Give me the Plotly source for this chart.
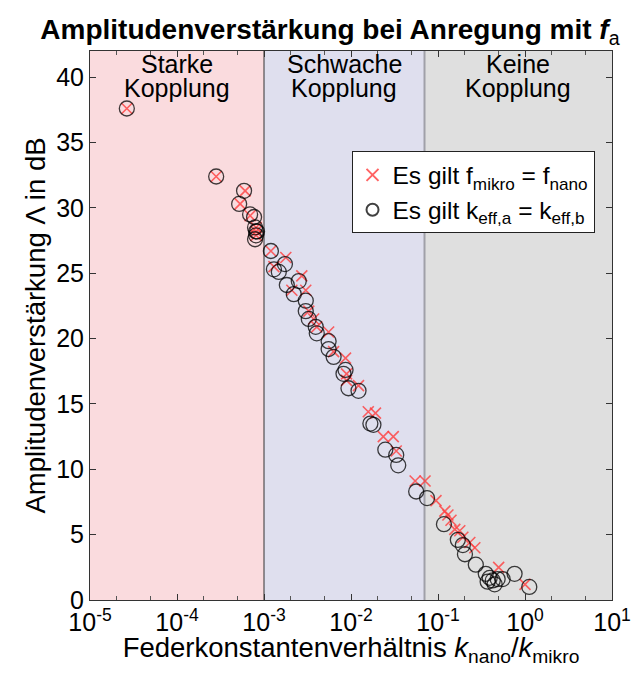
import numpy as np
import plotly.graph_objects as go

# --- data ---
k_freq = [2.65e-5, 2.82e-4, 6.07e-4, 5.32e-4, 6.92e-4, 8.11e-4, 8.11e-4, 8.11e-4,
          1.20e-3, 1.78e-3, 1.30e-3, 2.72e-3, 2.09e-3, 3.02e-3, 3.27e-3, 3.72e-3,
          4.04e-3, 5.53e-3, 6.31e-3, 8.65e-3, 8.89e-3, 8.89e-3, 1.22e-2, 1.58e-2,
          1.91e-2, 2.35e-2, 3.06e-2, 3.31e-2, 5.46e-2, 7.10e-2, 9.48e-2, 0.120,
          0.130, 0.141, 0.156, 0.178, 0.193, 0.232, 0.265, 0.498, 1.0]
a_freq = [37.6, 32.4, 31.3, 30.3, 29.4, 28.5, 28.2, 27.9,
          26.7, 26.2, 25.5, 24.8, 23.7, 23.7, 22.1, 21.5,
          20.9, 20.5, 19.0, 18.5, 17.3, 16.8, 16.4, 14.4,
          14.3, 12.5, 12.5, 11.4, 9.1, 9.1, 7.6, 6.8,
          6.5, 6.1, 5.4, 5.3, 4.8, 4.4, 4.0, 2.5, 1.2]

k_keff = [2.65e-5, 2.82e-4, 5.90e-4, 5.18e-4, 6.92e-4, 7.69e-4, 7.89e-4, 8.11e-4,
          8.11e-4, 7.89e-4, 8.32e-4, 1.20e-3, 1.30e-3, 1.74e-3, 1.48e-3, 1.83e-3,
          2.51e-3, 2.20e-3, 3.02e-3, 3.02e-3, 3.27e-3, 3.93e-3, 4.04e-3, 5.53e-3,
          5.53e-3, 6.31e-3, 8.65e-3, 8.20e-3, 9.35e-3, 1.22e-2, 1.67e-2, 1.81e-2,
          2.48e-2, 3.31e-2, 3.49e-2, 5.61e-2, 7.48e-2, 0.117, 0.169, 0.193,
          0.204, 0.272, 0.354, 0.393, 0.426, 0.485, 0.553, 0.372, 0.448, 0.759, 1.12]
a_keff = [37.6, 32.4, 31.3, 30.3, 29.5, 29.3, 28.5, 28.2,
          27.9, 27.6, 28.2, 26.7, 25.3, 25.7, 25.1, 24.1,
          24.4, 23.4, 22.9, 22.1, 21.5, 20.9, 20.4, 19.8,
          19.2, 18.6, 17.6, 17.3, 16.2, 16.0, 13.5, 13.4,
          11.5, 11.1, 10.3, 8.3, 7.8, 5.8, 4.6, 4.2,
          3.5, 2.7, 2.0, 1.7, 1.5, 1.6, 1.6, 1.4, 1.2, 2.0, 1.0]

region_bounds = [1e-5, 1e-3, 0.07, 1e1]
region_line1 = ["Starke", "Schwache", "Keine"]
region_line2 = ["Kopplung", "Kopplung", "Kopplung"]
region_colors = ["#fadbde", "#dfdfee", "#dfdfdf"]

x_tickvals = [1e-5, 1e-4, 1e-3, 1e-2, 1e-1, 1e0, 1e1]
x_ticktext = ["10<sup>-5</sup>", "10<sup>-4</sup>", "10<sup>-3</sup>", "10<sup>-2</sup>",
              "10<sup>-1</sup>", "10<sup>0</sup>", "10<sup>1</sup>"]
y_tickvals = [0, 5, 10, 15, 20, 25, 30, 35, 40]

FONT = "Liberation Sans, Arial, sans-serif"
FS = 25          # tick labels / region labels
FL = 27.5        # axis labels and title

fig = go.Figure()

fig.add_trace(go.Scatter(
    x=k_freq, y=a_freq, mode="markers",
    name="Es gilt f<sub>mikro</sub> = f<sub>nano</sub>",
    marker=dict(symbol="x-thin-open", size=11, color="rgba(255,60,60,0.8)",
                line=dict(width=1.6, color="rgba(255,60,60,0.8)")),
))
fig.add_trace(go.Scatter(
    x=k_keff, y=a_keff, mode="markers",
    name="Es gilt k<sub>eff,a</sub> = k<sub>eff,b</sub>",
    marker=dict(symbol="circle-open", size=15, color="rgba(0,0,0,0.75)",
                line=dict(width=1.3, color="rgba(0,0,0,0.75)")),
))

shapes = []
for i in range(3):
    shapes.append(dict(type="rect", xref="x", yref="paper",
                       x0=region_bounds[i], x1=region_bounds[i + 1],
                       y0=0, y1=1, fillcolor=region_colors[i], line=dict(width=0),
                       layer="below"))
shapes.append(dict(type="line", xref="x", yref="paper",
                   x0=region_bounds[1], x1=region_bounds[1],
                   y0=0, y1=1, line=dict(color="#333333", width=1), layer="below"))
shapes.append(dict(type="line", xref="x", yref="paper",
                   x0=region_bounds[2], x1=region_bounds[2],
                   y0=0, y1=1, line=dict(color="#a0a0a8", width=2), layer="below"))

annotations = []
for i in range(3):
    xc = (np.log10(region_bounds[i]) + np.log10(region_bounds[i + 1])) / 2
    annotations.append(dict(x=xc, y=41.0, xref="x", yref="y", text=region_line1[i],
                            showarrow=False, yanchor="middle",
                            font=dict(size=FS, color="black", family=FONT)))
    annotations.append(dict(x=xc, y=39.2, xref="x", yref="y", text=region_line2[i],
                            showarrow=False, yanchor="middle",
                            font=dict(size=FS, color="black", family=FONT)))

fig.update_layout(
    width=635, height=659,
    margin=dict(l=82, r=28, t=43, b=64),
    paper_bgcolor="white", plot_bgcolor="white",
    font=dict(family=FONT, color="black", size=FS),
    title=dict(text="<b>Amplitudenverstärkung bei Anregung mit <i>f</i></b><sub>a</sub>",
               x=0.507, xanchor="center", y=0.968, yanchor="middle",
               font=dict(size=28, color="black", family=FONT)),
    shapes=shapes, annotations=annotations,
    showlegend=True,
    legend=dict(x=0.501, y=0.817, xanchor="left", yanchor="top",
                bgcolor="white", bordercolor="#222222", borderwidth=1,
                font=dict(size=24.5, color="black", family=FONT),
                tracegroupgap=0, itemsizing="constant"),
    xaxis=dict(type="log", range=[-5, 1], tickvals=x_tickvals, ticktext=x_ticktext,
               ticks="inside", ticklen=6, tickcolor="#333333", showgrid=False,
               showline=True, linecolor="#333333", linewidth=1, mirror="ticks",
               zeroline=False,
               minor=dict(ticks="inside", ticklen=4, tickcolor="#555555", showgrid=False),
               tickfont=dict(size=FS, color="black", family=FONT),
               title=dict(text="Federkonstantenverhältnis <i>k</i><sub>nano</sub>/<i>k</i><sub>mikro</sub>",
                          font=dict(size=FL, color="black", family=FONT), standoff=0)),
    yaxis=dict(range=[0, 42], tickvals=y_tickvals, ticks="inside", ticklen=6,
               tickcolor="#333333", showgrid=False, zeroline=False,
               showline=True, linecolor="#333333", linewidth=1, mirror="ticks",
               tickfont=dict(size=FS, color="black", family=FONT),
               title=dict(text="Amplitudenverstärkung Λ in dB",
                          font=dict(size=FL, color="black", family=FONT), standoff=2)),
)

fig.write_html("out.html")
